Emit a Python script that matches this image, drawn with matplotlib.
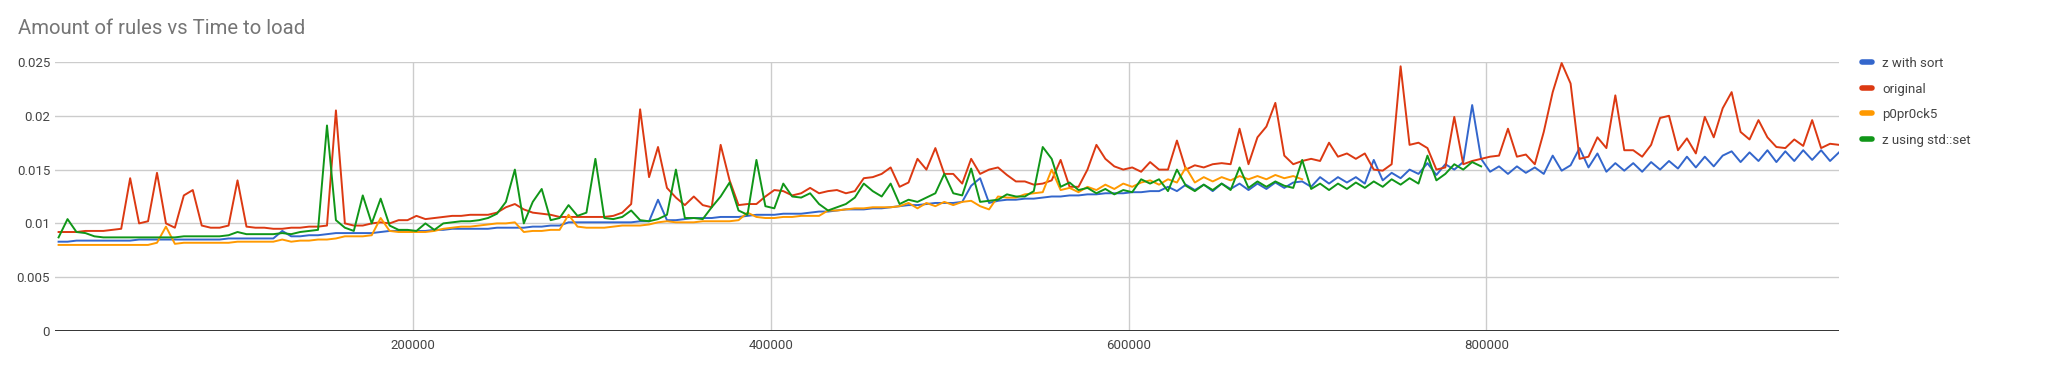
import numpy as np
import matplotlib
matplotlib.use('Agg')
import matplotlib.pyplot as plt
from matplotlib.lines import Line2D

plt.rcParams['font.family'] = ['Roboto', 'DejaVu Sans']

# amount of rules on x, one sample every 5000 rules
rules = np.arange(2000, 1000000, 5000)

# time to load (s)
z_with_sort = [
    0.0083, 0.0083, 0.0084, 0.0084, 0.0084, 0.0084, 0.0084, 0.0084, 0.0084, 0.0085,
    0.0085, 0.0085, 0.0085, 0.0085, 0.0085, 0.0085, 0.0085, 0.0085, 0.0085, 0.0086,
    0.0086, 0.0086, 0.0086, 0.0086, 0.0086, 0.0093, 0.0088, 0.0088, 0.0089, 0.0089,
    0.0090, 0.0091, 0.0091, 0.0091,
    0.0091, 0.0091, 0.0092, 0.0093, 0.0093, 0.0093, 0.0093, 0.0093, 0.0094, 0.0094,
    0.0095, 0.0095, 0.0095, 0.0095, 0.0095, 0.0096, 0.0096, 0.0096, 0.0096, 0.0097,
    0.0097, 0.0098, 0.0098, 0.0101, 0.0101, 0.0101, 0.0101, 0.0101, 0.0101, 0.0101,
    0.0101, 0.0102, 0.0102, 0.0122, 0.0103,
    0.0103, 0.0104, 0.0105, 0.0105, 0.0105, 0.0106, 0.0106, 0.0106, 0.0107, 0.0108,
    0.0108, 0.0108, 0.0109, 0.0109, 0.0109, 0.0110, 0.0111, 0.0111, 0.0112, 0.0113,
    0.0113, 0.0113, 0.0114, 0.0114, 0.0115, 0.0116, 0.0117, 0.0117, 0.0118, 0.0119,
    0.0119, 0.0119, 0.0120, 0.0135,
    0.0142, 0.0119, 0.0121, 0.0122, 0.0122, 0.0123, 0.0123, 0.0124, 0.0125, 0.0125,
    0.0126, 0.0126, 0.0127, 0.0127, 0.0128, 0.0128, 0.0128, 0.0129, 0.0129, 0.0130,
    0.0130,
    0.0134, 0.0130, 0.0136, 0.0131, 0.0136, 0.0130, 0.0137, 0.0132, 0.0137, 0.0131,
    0.0137, 0.0132, 0.0138, 0.0133,
    0.0138, 0.0139, 0.0134, 0.0143, 0.0137, 0.0143, 0.0138, 0.0143, 0.0137, 0.0159,
    0.0140, 0.0147, 0.0142, 0.0150, 0.0146, 0.0156, 0.0145, 0.0155, 0.0150, 0.0157,
    0.0210, 0.0160, 0.0148, 0.0153, 0.0146, 0.0153, 0.0147, 0.0152, 0.0146, 0.0163,
    0.0149, 0.0154, 0.0170, 0.0152, 0.0165,
    0.0148, 0.0156, 0.0149, 0.0156, 0.0148, 0.0157, 0.0150, 0.0158, 0.0151, 0.0162,
    0.0152, 0.0162, 0.0153, 0.0163, 0.0167, 0.0157, 0.0166, 0.0158, 0.0168, 0.0157,
    0.0167, 0.0158, 0.0168, 0.0159, 0.0168, 0.0158, 0.0166,
]

original = [
    0.0092, 0.0092, 0.0092, 0.0093, 0.0093, 0.0093, 0.0094, 0.0095, 0.0142, 0.0100,
    0.0102, 0.0147, 0.0100, 0.0096, 0.0126, 0.0131, 0.0098, 0.0096, 0.0096, 0.0098,
    0.0140, 0.0097, 0.0096, 0.0096, 0.0095, 0.0095, 0.0096, 0.0096, 0.0097, 0.0097,
    0.0098, 0.0205, 0.0100, 0.0098,
    0.0098, 0.0100, 0.0101, 0.0100, 0.0103, 0.0103, 0.0107, 0.0104, 0.0105, 0.0106,
    0.0107, 0.0107, 0.0108, 0.0108, 0.0108, 0.0110, 0.0115, 0.0118, 0.0113, 0.0110,
    0.0109, 0.0108, 0.0106, 0.0106, 0.0106, 0.0106, 0.0106, 0.0106, 0.0107, 0.0110,
    0.0118, 0.0206, 0.0143, 0.0171, 0.0133,
    0.0124, 0.0117, 0.0125, 0.0117, 0.0115, 0.0173, 0.0140, 0.0117, 0.0118, 0.0118,
    0.0125, 0.0131, 0.0130, 0.0126, 0.0128, 0.0133, 0.0128, 0.0130, 0.0131, 0.0128,
    0.0130, 0.0142, 0.0143, 0.0146, 0.0152, 0.0134, 0.0138, 0.0160, 0.0150, 0.0170,
    0.0146, 0.0146, 0.0137, 0.0160,
    0.0146, 0.0150, 0.0152, 0.0145, 0.0139, 0.0139, 0.0136, 0.0137, 0.0140, 0.0159,
    0.0134, 0.0134, 0.0150, 0.0173, 0.0160, 0.0153, 0.0150, 0.0152, 0.0148, 0.0157,
    0.0150, 0.0150, 0.0177, 0.0150, 0.0154, 0.0152, 0.0155, 0.0156, 0.0155, 0.0188,
    0.0155, 0.0180, 0.0190, 0.0212, 0.0163,
    0.0155, 0.0158, 0.0160, 0.0158, 0.0175, 0.0162, 0.0165, 0.0160, 0.0165, 0.0150,
    0.0149, 0.0155, 0.0246, 0.0173, 0.0175, 0.0170, 0.0150, 0.0152, 0.0199, 0.0155,
    0.0158, 0.0160, 0.0162, 0.0163, 0.0188, 0.0162, 0.0164, 0.0155, 0.0185, 0.0222,
    0.0249, 0.0230, 0.0160, 0.0162, 0.0180,
    0.0170, 0.0219, 0.0168, 0.0168, 0.0162, 0.0173, 0.0198, 0.0200, 0.0168, 0.0179,
    0.0165, 0.0199, 0.0180, 0.0207, 0.0222, 0.0185, 0.0178, 0.0196, 0.0180, 0.0171,
    0.0170, 0.0178, 0.0172, 0.0196, 0.0170, 0.0174, 0.0173,
]

p0pr0ck5 = [
    0.0080, 0.0080, 0.0080, 0.0080, 0.0080, 0.0080, 0.0080, 0.0080, 0.0080, 0.0080,
    0.0080, 0.0082, 0.0097, 0.0081, 0.0082, 0.0082, 0.0082, 0.0082, 0.0082, 0.0082,
    0.0083, 0.0083, 0.0083, 0.0083, 0.0083, 0.0085, 0.0083, 0.0084, 0.0084, 0.0085,
    0.0085, 0.0086, 0.0088, 0.0088,
    0.0088, 0.0089, 0.0105, 0.0093, 0.0092, 0.0092, 0.0092, 0.0092, 0.0093, 0.0095,
    0.0096, 0.0097, 0.0097, 0.0098, 0.0099, 0.0100, 0.0100, 0.0101, 0.0092, 0.0093,
    0.0093, 0.0094, 0.0094, 0.0108, 0.0097, 0.0096, 0.0096, 0.0096, 0.0097, 0.0098,
    0.0098, 0.0098, 0.0099, 0.0101, 0.0102,
    0.0101, 0.0101, 0.0101, 0.0102, 0.0102, 0.0102, 0.0102, 0.0103, 0.0110, 0.0106,
    0.0105, 0.0105, 0.0106, 0.0106, 0.0107, 0.0107, 0.0107, 0.0112, 0.0112, 0.0113,
    0.0114, 0.0114, 0.0115, 0.0115, 0.0115,
    0.0116, 0.0119, 0.0114, 0.0119, 0.0116, 0.0120, 0.0117, 0.0120, 0.0121,
    0.0116, 0.0113, 0.0125, 0.0124, 0.0124, 0.0127, 0.0128, 0.0129, 0.0150, 0.0131,
    0.0133, 0.0129, 0.0134, 0.0131, 0.0136, 0.0132, 0.0137, 0.0134, 0.0138, 0.0140,
    0.0136, 0.0141, 0.0138, 0.0152, 0.0138, 0.0143, 0.0139, 0.0143, 0.0140, 0.0144,
    0.0141, 0.0144, 0.0141, 0.0145, 0.0142,
    0.0144, 0.0141,
]

z_std_set = [
    0.0087, 0.0104, 0.0092, 0.0091, 0.0088, 0.0087, 0.0087, 0.0087, 0.0087, 0.0087,
    0.0087, 0.0087, 0.0087, 0.0087, 0.0088, 0.0088, 0.0088, 0.0088, 0.0088, 0.0089,
    0.0092, 0.0090, 0.0090, 0.0090, 0.0090, 0.0091, 0.0090, 0.0092, 0.0093, 0.0094,
    0.0191, 0.0103, 0.0096, 0.0093,
    0.0126, 0.0100, 0.0123, 0.0098, 0.0094, 0.0094, 0.0093, 0.0100, 0.0094, 0.0100,
    0.0101, 0.0102, 0.0102, 0.0103, 0.0105, 0.0109, 0.0120, 0.0150, 0.0100, 0.0120,
    0.0132, 0.0103, 0.0105, 0.0117, 0.0107, 0.0110, 0.0160, 0.0105, 0.0104, 0.0106,
    0.0112, 0.0103, 0.0102, 0.0104, 0.0108,
    0.0150, 0.0105, 0.0105, 0.0104, 0.0115, 0.0125, 0.0138, 0.0112, 0.0108, 0.0159,
    0.0116, 0.0114, 0.0137, 0.0125, 0.0124, 0.0128, 0.0118, 0.0112, 0.0115, 0.0118,
    0.0124, 0.0137, 0.0130, 0.0125, 0.0137, 0.0118, 0.0122, 0.0120, 0.0124, 0.0128,
    0.0146, 0.0128, 0.0126, 0.0151,
    0.0120, 0.0121, 0.0122, 0.0127, 0.0125, 0.0125, 0.0130, 0.0171, 0.0160, 0.0134,
    0.0138, 0.0131, 0.0133, 0.0128, 0.0132, 0.0127, 0.0131, 0.0129, 0.0141, 0.0137,
    0.0141, 0.0130, 0.0150,
    0.0135, 0.0130, 0.0136, 0.0131, 0.0137, 0.0131, 0.0152, 0.0133, 0.0139, 0.0134,
    0.0139, 0.0135,
    0.0133, 0.0159, 0.0132, 0.0137, 0.0131, 0.0137, 0.0132, 0.0138, 0.0133, 0.0139,
    0.0134, 0.0141, 0.0136, 0.0142, 0.0137, 0.0163, 0.0140, 0.0146, 0.0155, 0.0150,
    0.0157, 0.0153,
]

series_names = ['z with sort', 'original', 'p0pr0ck5', 'z using std::set']
series_colors = ['#3366cc', '#dc3912', '#ff9900', '#109618']
y_ticks = [0, 0.005, 0.01, 0.015, 0.02, 0.025]
y_tick_labels = ['0', '0.005', '0.01', '0.015', '0.02', '0.025']
x_ticks = [200000, 400000, 600000, 800000]

W, H = 2063, 371
fig = plt.figure(figsize=(W / 100, H / 100), dpi=100)
ax = fig.add_axes([55 / W, 1 - 331 / H, (1839 - 55) / W, (331 - 62) / H])

all_series = [z_with_sort, original, p0pr0ck5, z_std_set]
for values, name, color in zip(all_series, series_names, series_colors):
    ax.plot(rules[:len(values)], values, color=color, lw=1.4, label=name,
            solid_joinstyle='round', zorder=3)

ax.set_xlim(0, rules[-1])
ax.set_ylim(0, 0.025)
ax.set_xticks(x_ticks)
ax.set_xticklabels([str(t) for t in x_ticks])
ax.set_yticks(y_ticks)
ax.set_yticklabels(y_tick_labels)
ax.grid(True, color='#cccccc', lw=1)
ax.axhline(0, color='#333333', lw=1.4, zorder=4)
for s in ax.spines.values():
    s.set_visible(False)
ax.tick_params(length=0, labelsize=9.5, colors='#444444')
ax.tick_params(axis='x', pad=6)
ax.tick_params(axis='y', pad=3.5)

fig.text(18 / W, 1 - 29 / H, 'Amount of rules vs Time to load',
         fontsize=14.6, color='#757575', va='center', ha='left')

handles = [Line2D([], [], color=c, lw=4, solid_capstyle='round') for c in series_colors]
ax.legend(handles, series_names, loc='upper left',
          bbox_to_anchor=(1862 / W, 1 - 57 / H), bbox_transform=fig.transFigure,
          frameon=False, fontsize=9.5, handlelength=0.75, handletextpad=0.8,
          labelspacing=0.95, borderpad=0, borderaxespad=0, labelcolor='#444444')

fig.savefig('out.png', dpi=100)
plt.close(fig)
